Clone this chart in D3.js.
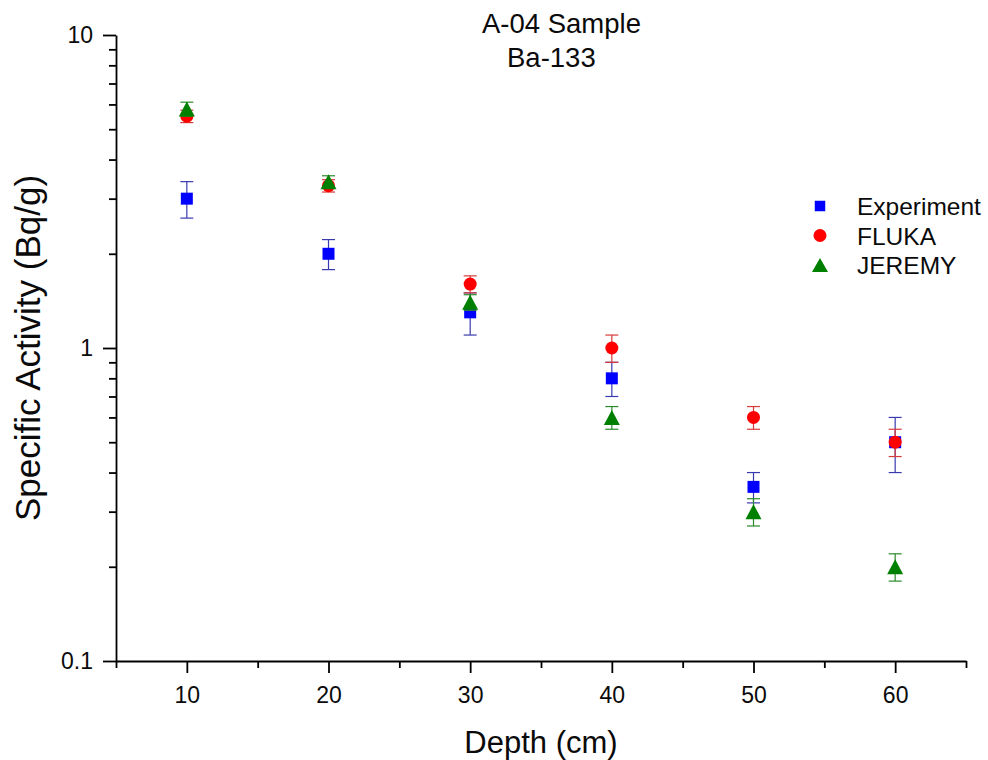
<!DOCTYPE html>
<html>
<head>
<meta charset="utf-8">
<script src="https://cdn.jsdelivr.net/npm/d3@7"></script>
<style>
  body { margin: 0; background: #fff; }
  svg text { font-family: "Liberation Sans", Arial, sans-serif; fill: #0a0a0a; }
  .axis path, .axis line { stroke: #000; }
  .axis .tick text { font-size: 23px; }
</style>
</head>
<body>
<div id="chartDiv"></div>
<script>
// depths (cm)
const depths = [10, 20, 30, 40, 50, 60];

// specific activity (Bq/g) with error bars
const experiment = [3.0, 2.0, 1.3, 0.8, 0.36, 0.5];
const experimentErr = [0.4, 0.22, 0.2, 0.1, 0.04, 0.1];
const fluka = [5.5, 3.3, 1.6, 1.0, 0.6, 0.5];
const flukaErr = [0.25, 0.15, 0.1, 0.1, 0.05, 0.05];
const jeremy = [5.8, 3.4, 1.4, 0.6, 0.3, 0.2];
const jeremyErr = [0.3, 0.15, 0.08, 0.05, 0.03, 0.02];

const xMajorTicks = [10, 20, 30, 40, 50, 60];
const xMinorTicks = [5, 15, 25, 35, 45, 55, 65];
const yMajorTicks = [0.1, 1, 10];
const yMinorTicks = [0.2, 0.3, 0.4, 0.5, 0.6, 0.7, 0.8, 0.9, 2, 3, 4, 5, 6, 7, 8, 9];

const series = [
    {name: "Experiment", values: experiment, err: experimentErr, symbol: d3.symbolSquare, fill: "#0000ff", errColor: "#3a3ab0", size: 144},
    {name: "FLUKA", values: fluka, err: flukaErr, symbol: d3.symbolCircle, fill: "#ff0000", errColor: "#d83a3a", size: 133},
    {name: "JEREMY", values: jeremy, err: jeremyErr, symbol: "triangle", fill: "#008000", errColor: "#2a8a2a", size: 0}
];

const width = 988, height = 760;
const margin = {top: 35, right: 22, bottom: 99, left: 116};

let svg = d3.select("#chartDiv").append("svg")
    .attr("width", width)
    .attr("height", height);

let x = d3.scaleLinear()
    .domain([5, 65])
    .range([margin.left, width - margin.right]);

let y = d3.scaleLog()
    .domain([0.1, 10])
    .range([height - margin.bottom, margin.top]);

// x axis
svg.append("g")
    .attr("class", "axis")
    .attr("transform", `translate(0, ${y(0.1)})`)
    .call(d3.axisBottom(x).tickValues(xMajorTicks).tickSize(12).tickSizeOuter(0).tickPadding(14).tickFormat(d3.format("d")))
    .attr("font-size", 23)
    .call(g => g.select(".domain").attr("stroke-width", 1.8))
    .call(g => g.selectAll(".tick line").attr("stroke-width", 1.8))
    .call(g => g.selectAll(".tick text").attr("font-size", 23).attr("fill", "#0a0a0a"));

svg.append("g")
    .attr("class", "axis")
    .attr("transform", `translate(0, ${y(0.1)})`)
    .call(d3.axisBottom(x).tickValues(xMinorTicks).tickSize(7).tickSizeOuter(0).tickFormat(""))
    .call(g => g.select(".domain").remove())
    .call(g => g.selectAll(".tick line").attr("stroke-width", 1.8));

// y axis
svg.append("g")
    .attr("class", "axis")
    .attr("transform", `translate(${x(5)}, 0)`)
    .call(d3.axisLeft(y).tickValues(yMajorTicks).tickSize(13).tickSizeOuter(0).tickPadding(10).tickFormat(d => String(d)))
    .attr("font-size", 23)
    .call(g => g.select(".domain").attr("stroke-width", 1.8))
    .call(g => g.selectAll(".tick line").attr("stroke-width", 1.8))
    .call(g => g.selectAll(".tick text").attr("font-size", 23).attr("fill", "#0a0a0a"));

svg.append("g")
    .attr("class", "axis")
    .attr("transform", `translate(${x(5)}, 0)`)
    .call(d3.axisLeft(y).tickValues(yMinorTicks).tickSize(7).tickSizeOuter(0).tickFormat(""))
    .call(g => g.select(".domain").remove())
    .call(g => g.selectAll(".tick line").attr("stroke-width", 1.8));

// triangle path centred on its bounding box
function trianglePath(w, h) {
    return `M0,${-h / 2}L${w / 2},${h / 2}L${-w / 2},${h / 2}Z`;
}

function symbolPath(s) {
    if (s.symbol === "triangle") return trianglePath(16, 15);
    return d3.symbol().type(s.symbol).size(s.size)();
}

const cap = 6.5;

series.forEach(s => {
    let g = svg.append("g").attr("class", "series");
    let pts = depths.map((d, i) => ({x: d, v: s.values[i], e: s.err[i]}));

    // error bars
    let eb = g.selectAll("g.err").data(pts).enter().append("g")
        .attr("class", "err")
        .attr("stroke", s.errColor)
        .attr("stroke-width", 1.2);
    eb.append("line")
        .attr("x1", d => x(d.x)).attr("x2", d => x(d.x))
        .attr("y1", d => y(d.v + d.e)).attr("y2", d => y(d.v - d.e));
    eb.append("line")
        .attr("x1", d => x(d.x) - cap).attr("x2", d => x(d.x) + cap)
        .attr("y1", d => y(d.v + d.e)).attr("y2", d => y(d.v + d.e));
    eb.append("line")
        .attr("x1", d => x(d.x) - cap).attr("x2", d => x(d.x) + cap)
        .attr("y1", d => y(d.v - d.e)).attr("y2", d => y(d.v - d.e));

    // symbols
    g.selectAll("path.pt").data(pts).enter().append("path")
        .attr("class", "pt")
        .attr("d", symbolPath(s))
        .attr("transform", d => `translate(${x(d.x)}, ${y(d.v)})`)
        .style("fill", s.fill);
});

// legend
let legend = svg.append("g").attr("transform", "translate(820, 206)");
series.forEach((s, i) => {
    let row = legend.append("g").attr("transform", `translate(0, ${i * 29.5})`);
    row.append("path")
        .attr("d", s.symbol === "triangle" ? trianglePath(16, 14) : d3.symbol().type(s.symbol).size(s.symbol === d3.symbolSquare ? 110 : 133)())
        .style("fill", s.fill);
    row.append("text")
        .attr("x", 37)
        .attr("y", 9)
        .style("font-size", "24.5px")
        .text(s.name);
});

// titles
svg.append("text")
    .attr("x", 482)
    .attr("y", 33)
    .style("font-size", "27.5px")
    .text("A-04 Sample");

svg.append("text")
    .attr("x", 507)
    .attr("y", 67)
    .style("font-size", "27.5px")
    .text("Ba-133");

svg.append("text")
    .attr("x", (x(5) + x(65)) / 2)
    .attr("y", 753)
    .style("text-anchor", "middle")
    .style("font-size", "31px")
    .text("Depth (cm)");

svg.append("text")
    .attr("transform", `translate(40, ${(y(0.1) + y(10)) / 2}) rotate(-90)`)
    .style("text-anchor", "middle")
    .style("font-size", "35px")
    .text("Specific Activity (Bq/g)");
</script>
</body>
</html>
